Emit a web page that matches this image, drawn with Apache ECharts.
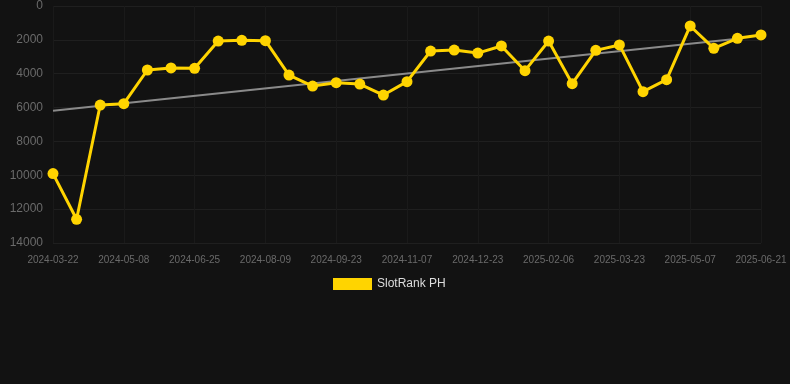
<!DOCTYPE html>
<html>
<head>
<meta charset="utf-8">
<script src="https://cdn.jsdelivr.net/npm/echarts@6/dist/echarts.min.js"></script>
<style>
html,body{margin:0;padding:0;background:#121212;}
#chart{width:790px;height:384px;}
</style>
</head>
<body>
<div id="chart"></div>
<script>
var categories = ["2024-03-22","2024-04-06","2024-04-22","2024-05-08","2024-05-24","2024-06-09","2024-06-25","2024-07-10","2024-07-25","2024-08-09","2024-08-24","2024-09-08","2024-09-23","2024-10-08","2024-10-23","2024-11-07","2024-11-22","2024-12-08","2024-12-23","2025-01-07","2025-01-22","2025-02-06","2025-02-21","2025-03-08","2025-03-23","2025-04-07","2025-04-22","2025-05-07","2025-05-22","2025-06-06","2025-06-21"];
var rankValues = [9900,12600,5850,5770,3780,3660,3680,2070,2030,2050,4080,4730,4530,4610,5260,4470,2660,2600,2780,2360,3820,2070,4590,2620,2300,5060,4350,1180,2500,1910,1710];
var trendValues = [6190,null,null,null,null,null,null,null,null,null,null,null,null,null,null,null,null,null,null,null,null,null,null,null,null,null,null,null,null,1930,null];
var yTicks = {min:0, max:14000, interval:2000};
var seriesName = "SlotRank PH";

var chart = echarts.init(document.getElementById('chart'));
chart.setOption({
  backgroundColor: '#121212',
  animation: false,
  grid: {left: 53, right: 29, top: 6, bottom: 141, containLabel: false},
  legend: {
    data: [{name: seriesName, icon: 'rect'}],
    top: 273, left: 328,
    itemWidth: 39, itemHeight: 12, itemGap: 6,
    textStyle: {color: '#dddddd', fontSize: 12, fontFamily: 'Liberation Sans, Arial, sans-serif'}
  },
  xAxis: {
    type: 'category',
    data: categories,
    boundaryGap: false,
    axisLine: {show: false},
    axisTick: {show: false},
    axisLabel: {interval: 2, color: '#6a6a6a', fontSize: 10, margin: 12, fontFamily: 'Liberation Sans, Arial, sans-serif'},
    splitLine: {show: true, interval: 2, lineStyle: {color: '#1a1a1a', width: 1}}
  },
  yAxis: {
    type: 'value',
    inverse: true,
    min: yTicks.min, max: yTicks.max, interval: yTicks.interval,
    axisLine: {show: false},
    axisTick: {show: false},
    axisLabel: {color: '#6a6a6a', fontSize: 12, margin: 10, fontFamily: 'Liberation Sans, Arial, sans-serif',
      formatter: function (v) { return String(v); }},
    splitLine: {show: true, lineStyle: {color: '#1f1f1f', width: 1}}
  },
  series: [
    {
      name: 'trend',
      type: 'line',
      data: trendValues,
      connectNulls: true,
      symbol: 'none',
      lineStyle: {color: '#8a8a8a', width: 2},
      z: 1,
      silent: true
    },
    {
      name: seriesName,
      type: 'line',
      data: rankValues,
      symbol: 'circle',
      symbolSize: 11,
      itemStyle: {color: '#FFD400'},
      lineStyle: {color: '#FFD400', width: 3},
      z: 2
    }
  ]
});
</script>
</body>
</html>
